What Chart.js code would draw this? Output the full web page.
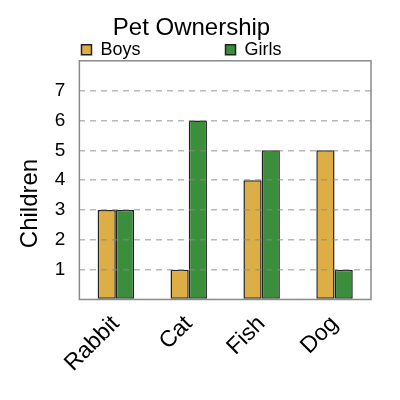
<!DOCTYPE html>
<html>
<head>
<meta charset="utf-8">
<script src="https://cdn.jsdelivr.net/npm/chart.js@4"></script>
<style>
  html, body { margin: 0; padding: 0; background: #fff; }
  #wrap { width: 400px; height: 400px; }
</style>
</head>
<body>
<div id="wrap"><canvas id="petChart"></canvas></div>
<script>
// chart data
const pets = ["Rabbit", "Cat", "Fish", "Dog"];
const boys = [3, 1, 4, 5];
const girls = [3, 6, 5, 1];
const yTicks = [1, 2, 3, 4, 5, 6, 7];

// legend spacing: trailing spaces push Girls over to the right
const legendGap = { Boys: 17, Girls: 4 };

// draws the grey box round the plot area
const frame = {
    id: "frame",
    afterDraw(chart) {
        const { ctx, chartArea: a } = chart;
        ctx.save();
        ctx.strokeStyle = "#8a8a8a";
        ctx.lineWidth = 1.5;
        ctx.strokeRect(a.left, a.top, a.right - a.left, a.bottom - a.top);
        ctx.restore();
    }
};

const font = "'Liberation Sans', Arial, sans-serif";
const ctx = document.getElementById("petChart").getContext("2d");
new Chart(ctx, {
    type: "bar",
    data: {
        labels: pets,
        datasets: [
            { label: "Boys", data: boys, backgroundColor: "#deae46", borderColor: "#222", borderWidth: 1.5, borderSkipped: false },
            { label: "Girls", data: girls, backgroundColor: "#3b8e3b", borderColor: "#222", borderWidth: 1.5, borderSkipped: false }
        ]
    },
    plugins: [frame],
    options: {
        responsive: true,
        maintainAspectRatio: false,
        animation: false,
        layout: { padding: { left: 12, right: 29, bottom: 20 } },
        datasets: { bar: { categoryPercentage: 0.5, barPercentage: 1 } },
        plugins: {
            title: {
                display: true,
                text: "Pet Ownership",
                color: "#000",
                font: { family: font, size: 24, weight: "normal" },
                padding: { top: 14, bottom: -2 }
            },
            legend: {
                maxHeight: 20,
                labels: {
                    color: "#000",
                    font: { family: font, size: 18 },
                    boxWidth: 10,
                    boxHeight: 10,
                    padding: 0,
                    generateLabels(chart) {
                        const items = Chart.defaults.plugins.legend.labels.generateLabels(chart);
                        return items.map(it => ({ ...it, text: it.text + "\u00a0".repeat(legendGap[it.text]) }));
                    }
                }
            },
            tooltip: { enabled: false }
        },
        scales: {
            x: {
                grid: { display: false },
                border: { display: false },
                ticks: {
                    color: "#000",
                    font: { family: font, size: 23 },
                    minRotation: 45,
                    maxRotation: 45
                }
            },
            y: {
                min: 0,
                max: 8,
                border: { display: false, dash: [6, 5] },
                grid: {
                    z: 1,
                    color: c => yTicks.includes(c.tick.value) ? "rgba(136,136,136,0.6)" : "rgba(0,0,0,0)",
                    tickColor: "rgba(0,0,0,0)",
                    lineWidth: 1.5
                },
                ticks: {
                    stepSize: 1,
                    padding: 6,
                    color: "#000",
                    font: { family: font, size: 19 },
                    callback: v => yTicks.includes(v) ? v : ""
                },
                title: {
                    display: true,
                    text: "Children" + "\u00a0".repeat(7),
                    color: "#000",
                    font: { family: font, size: 24 }
                }
            }
        }
    }
});
</script>
</body>
</html>
